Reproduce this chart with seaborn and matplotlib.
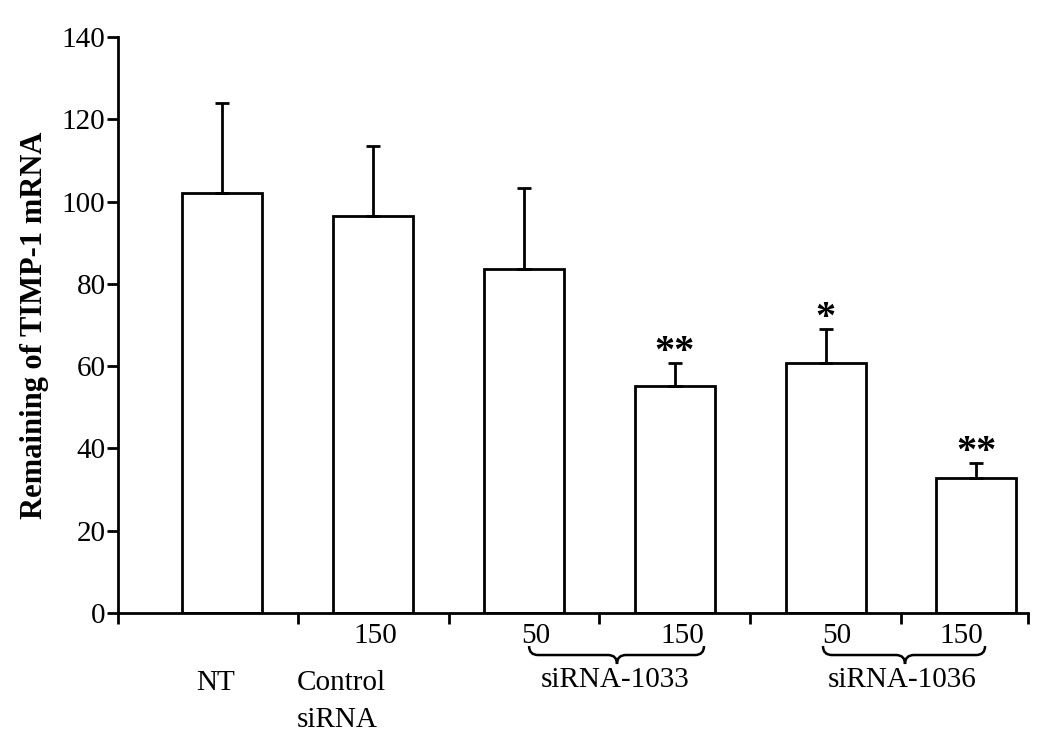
import numpy as np
import pandas as pd
import matplotlib
matplotlib.use("Agg")
import matplotlib.pyplot as plt
from matplotlib.path import Path
from matplotlib.patches import PathPatch
import matplotlib.transforms as mtransforms
import seaborn as sns

# ---- data ----
groups = ["NT", "Control siRNA 150", "siRNA-1033 50", "siRNA-1033 150",
          "siRNA-1036 50", "siRNA-1036 150"]
means = [102.0, 96.5, 83.5, 55.3, 60.8, 32.7]
errors = [22.0, 17.0, 19.8, 5.5, 8.3, 3.7]
stars = ["", "", "", "**", "*", "**"]
dose_labels = ["", "150", "50", "150", "50", "150"]
yticks = [0, 20, 40, 60, 80, 100, 120, 140]
ylabel = "Remaining of TIMP-1 mRNA"

df = pd.DataFrame({"group": groups, "value": means})

sns.set_theme(style="white")
plt.rcParams["font.family"] = ["Liberation Serif", "DejaVu Serif"]
plt.rcParams.update({"text.color": "black", "axes.labelcolor": "black",
                     "xtick.color": "black", "ytick.color": "black"})

fig = plt.figure(figsize=(10.5, 7.41), dpi=100)
ax = fig.add_axes([0.1124, 0.1727, 0.8667, 0.7773])

sns.barplot(data=df, x="group", y="value", order=groups, color="white",
            edgecolor="black", linewidth=2.0, width=0.53, errorbar=None, ax=ax,
            saturation=1)
for p in ax.patches:
    p.set_facecolor("white")

xs = np.arange(len(groups))
ax.errorbar(xs, means, yerr=[np.zeros(len(means)), errors], fmt="none",
            ecolor="black", elinewidth=2.0, capsize=5, capthick=2.0)

for x, m, e, s in zip(xs, means, errors, stars):
    if s:
        ax.text(x, m + e + 0.2, s, ha="center", va="baseline", fontsize=29,
                color="black", fontweight="bold")

ax.set_ylim(0, 140)
ax.set_xlim(-0.692, 5.343)
ax.set_yticks(yticks)
ax.set_yticklabels([str(t) for t in yticks], fontsize=21, color="black")
ax.set_xticks([-0.692, 0.5, 1.5, 2.5, 3.5, 4.5, 5.343])
ax.set_xticklabels([])
ax.tick_params(axis="both", direction="out", length=8, width=2, color="black",
               left=True, bottom=True, pad=1)
ax.set_xlabel("")
ax.set_ylabel(ylabel, fontsize=22, fontweight="bold", labelpad=9,
              color="black")

for side in ["top", "right"]:
    ax.spines[side].set_visible(False)
for side in ["left", "bottom"]:
    ax.spines[side].set_color("black")
    ax.spines[side].set_linewidth(2)

trans = mtransforms.blended_transform_factory(ax.transData, ax.transAxes)

# dose labels
dose_x = [None, 1.013, 2.08, 3.048, 4.076, 4.898]
for dx, lab in zip(dose_x, dose_labels):
    if lab:
        ax.text(dx, -0.040, lab, transform=trans, ha="center", va="center",
                fontsize=21, clip_on=False, color="black")

# group labels
ax.text(-0.048, -0.1215, "NT", transform=trans, ha="center", va="center",
        fontsize=21, color="black")
ax.text(0.496, -0.1215, "Control", transform=trans, ha="left", va="center",
        fontsize=21, color="black")
ax.text(0.496, -0.1858, "siRNA", transform=trans, ha="left", va="center",
        fontsize=21, color="black")


def brace(x0, x1, xc, yt=-0.0573, ym=-0.0729, yb=-0.0885, r=0.06):
    verts = [(x0, yt), (x0, ym), (x0 + r, ym), (xc - r, ym), (xc, ym), (xc, yb),
             (xc, ym), (xc + r, ym), (x1 - r, ym), (x1, ym), (x1, yt)]
    codes = [Path.MOVETO, Path.CURVE3, Path.CURVE3, Path.LINETO, Path.CURVE3,
             Path.CURVE3, Path.CURVE3, Path.CURVE3, Path.LINETO, Path.CURVE3,
             Path.CURVE3]
    patch = PathPatch(Path(verts, codes), transform=trans, fill=False,
                      edgecolor="black", linewidth=1.8, clip_on=False)
    ax.add_patch(patch)

brace(2.034, 3.194, 2.617)
brace(3.983, 5.058, 4.527)
ax.text(2.604, -0.1163, "siRNA-1033", transform=trans, ha="center",
        va="center", fontsize=21, color="black")
ax.text(4.507, -0.1163, "siRNA-1036", transform=trans, ha="center",
        va="center", fontsize=21, color="black")

fig.savefig("out.png", dpi=100, facecolor="white")
